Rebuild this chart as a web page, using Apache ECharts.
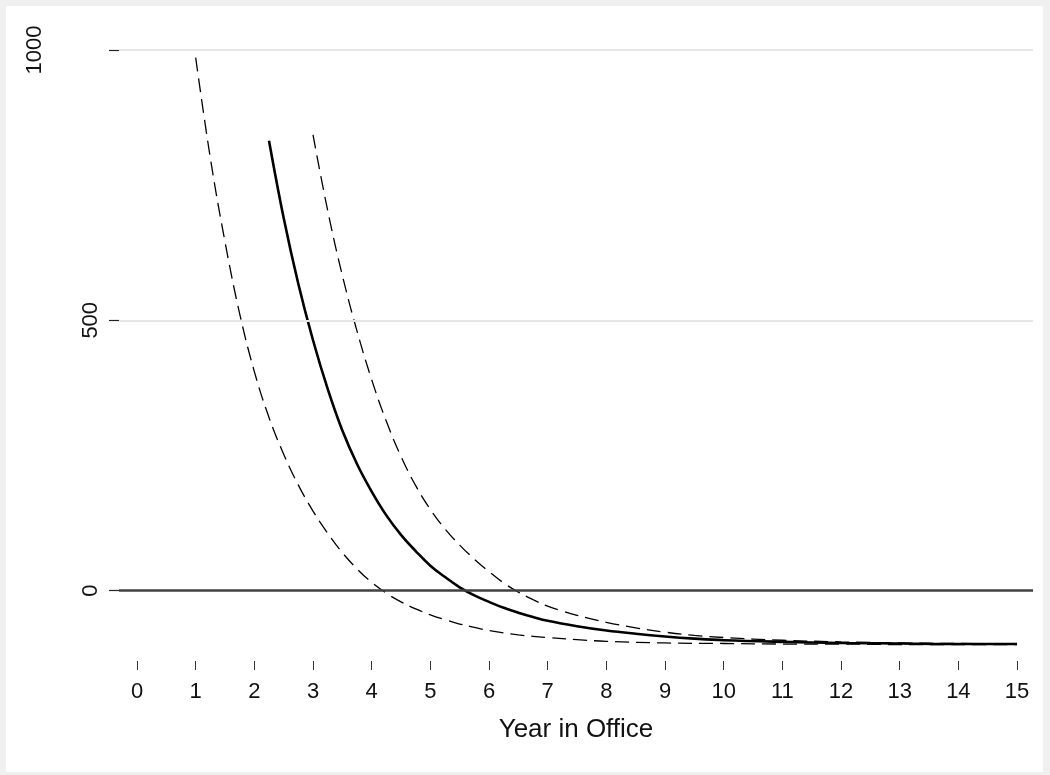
<!DOCTYPE html>
<html>
<head>
<meta charset="utf-8">
<script src="https://cdn.jsdelivr.net/npm/echarts@6/dist/echarts.min.js"></script>
<style>
html,body{margin:0;padding:0;background:#fff;}
#chart{width:1050px;height:775px;}
</style>
</head>
<body>
<div id="chart"></div>
<script>
// ---- data ----
const xTicks = [0,1,2,3,4,5,6,7,8,9,10,11,12,13,14,15];
const yTicks = [0,500,1000];
const gridLineValues = [500,1000];
const zeroLineValue = 0;
const xTitle = 'Year in Office';

const estX = [2.25,2.5,2.75,3.0,3.25,3.5,3.75,4.0,4.25,4.5,4.75,5.0,5.25,5.5,5.75,6.0,6.25,6.5,6.75,7.0,7.5,8.0,8.5,9.0,9.5,10,11,12,13,14,15];
const estY = [832,689,567,463,373,296,234,183,139,103,73,46,25,6,-9,-21,-32,-41,-49,-56,-66,-74,-80,-85,-89,-92,-95,-97,-98,-99,-99];

const lowX = [1.0,1.25,1.5,1.75,2.0,2.25,2.5,2.75,3.0,3.25,3.5,3.75,4.0,4.25,4.5,4.75,5.0,5.25,5.5,5.75,6.0,6.5,7.0,7.5,8.0,9,10,11,12,13,14,15];
const lowY = [986,800,645,512,405,320,252,195,147,106,70,40,15,-5,-21,-34,-45,-54,-62,-68,-74,-82,-87,-91,-94,-97,-98,-99,-99,-100,-100,-100];

const upX = [3.0,3.25,3.5,3.75,4.0,4.25,4.5,4.75,5.0,5.25,5.5,5.75,6.0,6.25,6.5,6.75,7.0,7.25,7.5,8.0,8.5,9.0,9.5,10,11,12,13,14,15];
const upY = [843,703,583,480,390,313,248,194,150,114,84,58,35,14,-3,-17,-29,-38,-46,-59,-69,-77,-83,-87,-92,-95,-97,-98,-99];

const pairs = (xs, ys) => xs.map((x, i) => [x, ys[i]]);

const chart = echarts.init(document.getElementById('chart'));
const FONT = '"Liberation Sans", Arial, Helvetica, sans-serif';

const option = {
  backgroundColor: '#f0f0f0',
  animation: false,
  textStyle: { fontFamily: FONT },
  graphic: [{
    type: 'rect', z: -10, silent: true,
    shape: { x: 6, y: 6, width: 1037, height: 766 },
    style: { fill: '#ffffff' }
  }],
  grid: { left: 119, right: 17, top: 50, bottom: 114, containLabel: false },
  xAxis: {
    type: 'value',
    min: -0.307, max: 15.272,
    axisLine: { show: false, onZero: false },
    splitLine: { show: false },
    axisTick: { show: true, length: 9, customValues: xTicks, lineStyle: { color: '#333', width: 1 } },
    axisLabel: { customValues: xTicks, fontSize: 22, color: '#111', margin: 20, fontFamily: FONT },
    name: xTitle, nameLocation: 'middle', nameGap: 56,
    nameTextStyle: { fontSize: 26, color: '#111', fontFamily: FONT }
  },
  yAxis: {
    type: 'value',
    min: -130.4, max: 1000,
    axisLine: { show: false, onZero: false },
    splitLine: { show: false },
    axisTick: { show: true, length: 10, customValues: yTicks, lineStyle: { color: '#222', width: 1.2 } },
    axisLabel: {
      customValues: yTicks, rotate: 90, fontSize: 22, color: '#111', margin: 17, fontFamily: FONT,
      formatter: v => v === 1000 ? '{b|' + v + '}' : '{a|' + v + '}',
      rich: {
        a: { fontSize: 22, color: '#111', fontFamily: FONT },
        b: { fontSize: 22, color: '#111', fontFamily: FONT, padding: [0, 0, 56, 0] }
      }
    }
  },
  series: [
    {
      name: 'grid', type: 'line', data: [], silent: true,
      markLine: {
        silent: true, symbol: 'none', label: { show: false }, animation: false,
        data: gridLineValues.map(v => ({ yAxis: v, lineStyle: { color: '#e6e6e6', width: 2, type: 'solid' } }))
          .concat([{ yAxis: zeroLineValue, lineStyle: { color: '#404040', width: 2.5, type: 'solid' } }])
      }
    },
    {
      name: 'lower', type: 'line', data: pairs(lowX, lowY), showSymbol: false, symbol: 'none',
      smooth: 0.4,
      lineStyle: { color: '#000', width: 1.3, type: [14, 7] }, z: 3
    },
    {
      name: 'upper', type: 'line', data: pairs(upX, upY), showSymbol: false, symbol: 'none',
      smooth: 0.4,
      lineStyle: { color: '#000', width: 1.3, type: [14, 7] }, z: 3
    },
    {
      name: 'estimate', type: 'line', data: pairs(estX, estY), showSymbol: false, symbol: 'none',
      smooth: 0.4,
      lineStyle: { color: '#000', width: 2.6, type: 'solid' }, z: 4
    }
  ]
};
chart.setOption(option);
</script>
</body>
</html>
